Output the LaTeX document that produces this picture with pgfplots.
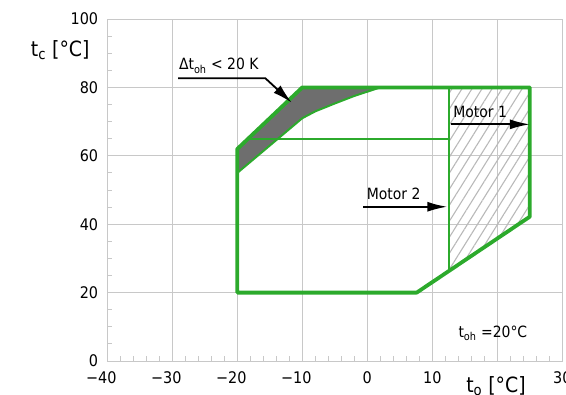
\documentclass[border=0pt]{standalone}
\usepackage{fontspec}
\setmainfont{DejaVu Sans}[FakeStretch=0.9]
\usepackage{pgfplots}
\pgfplotsset{compat=1.18}
\usetikzlibrary{arrows.meta,patterns.meta}
\definecolor{ggreen}{HTML}{2CAA2C}
\definecolor{gridgray}{HTML}{C8C8C8}
\definecolor{fillgray}{HTML}{6E6E6E}
\begin{document}
\begin{tikzpicture}
\begin{axis}[
 x=6.5pt, y=3.42pt,
 xmin=-40,xmax=30,ymin=0,ymax=100,
 clip=false,
 axis line style={gridgray, line width=0.9pt},
 grid=major,
 major grid style={gridgray, line width=0.9pt},
 xtick={-40,-30,...,30},
 xticklabels={\llap{−}40,\llap{−}30,\llap{−}20,\llap{−}10,0,10,,30},
 ytick={0,20,...,100},
 yticklabels={0,20,40,60,80,100},
 minor x tick num=4, minor y tick num=3,
 tick align=inside, tick pos=left,
 major tick length=0pt, minor tick length=5pt,
 minor tick style={gridgray, line width=0.9pt},
 tick label style={font=\fontsize{16}{19}\selectfont, text=black, inner sep=0pt},
 xticklabel style={anchor=north, yshift=-10pt},
 yticklabel style={anchor=east, xshift=-9pt},
]
% gray region
\addplot[draw=none, fill=fillgray] coordinates {(-20,62) (-10,80) (2,80) (-2,77.5) (-5,75.3) (-8,73) (-10,71) (-20,55)} -- cycle;
% hatched region
\addplot[draw=none, pattern={Lines[angle=58,distance=8.5pt,line width=1.1pt]}, pattern color=gray!55] coordinates {(12.5,26.3) (25,42.2) (25,80) (12.5,80)} -- cycle;
% thin lines
\addplot[ggreen, line width=2pt] coordinates {(-20,55) (-10,71) (-8,73) (-5,75.3) (-2,77.5) (2,80)};
\addplot[ggreen, line width=2pt] coordinates {(-18.3,65) (12.5,65)};
\addplot[ggreen, line width=2pt] coordinates {(12.5,26.3) (12.5,80)};
% outer envelope
\addplot[ggreen, line width=3.8pt, line join=round] coordinates {(-20,20) (7.6,20) (25,42.2) (25,80) (-10,80) (-20,62)} -- cycle;
% annotations
\draw[black, line width=1.8pt, -{Latex[length=20pt,width=10pt]}] (axis cs:-29.1,82.7) -- (axis cs:-15.7,82.7) -- (axis cs:-11.6,75.5);
\node[anchor=base west, inner sep=0pt, font=\fontsize{15.5}{18}\selectfont] at (axis cs:-29,85.1) {Δt\textsubscript{oh} < 20 K};
\draw[black, line width=1.8pt, -{Latex[length=20pt,width=10pt]}] (axis cs:12.8,69.2) -- (axis cs:25,69.2);
\node[anchor=base west, inner sep=0pt, font=\fontsize{15.5}{18}\selectfont] at (axis cs:13.2,71.3) {Motor 1};
\draw[black, line width=1.8pt, -{Latex[length=20pt,width=10pt]}] (axis cs:-0.6,45.1) -- (axis cs:12.3,45.1);
\node[anchor=base west, inner sep=0pt, font=\fontsize{15.5}{18}\selectfont] at (axis cs:-0.1,47.1) {Motor 2};
\node[anchor=base west, inner sep=0pt, font=\fontsize{15.5}{18}\selectfont] at (axis cs:14,6.9) {t\textsubscript{oh} =20°C};
% axis labels
\node[anchor=base east, inner sep=0pt, font=\fontsize{21}{24}\selectfont] at (axis cs:-42.7,89.0) {t\textsubscript{c} [°C]};
\node[anchor=base west, inner sep=0pt, font=\fontsize{21}{24}\selectfont] at (axis cs:15.2,-9.1) {t\textsubscript{o} [°C]};
\coordinate (BL) at (axis cs:-56.51,-9.94);
\coordinate (TR) at (axis cs:30.57,105.56);
\end{axis}
\pgfresetboundingbox
\path[use as bounding box] (BL) rectangle (TR);
\end{tikzpicture}
\end{document}
